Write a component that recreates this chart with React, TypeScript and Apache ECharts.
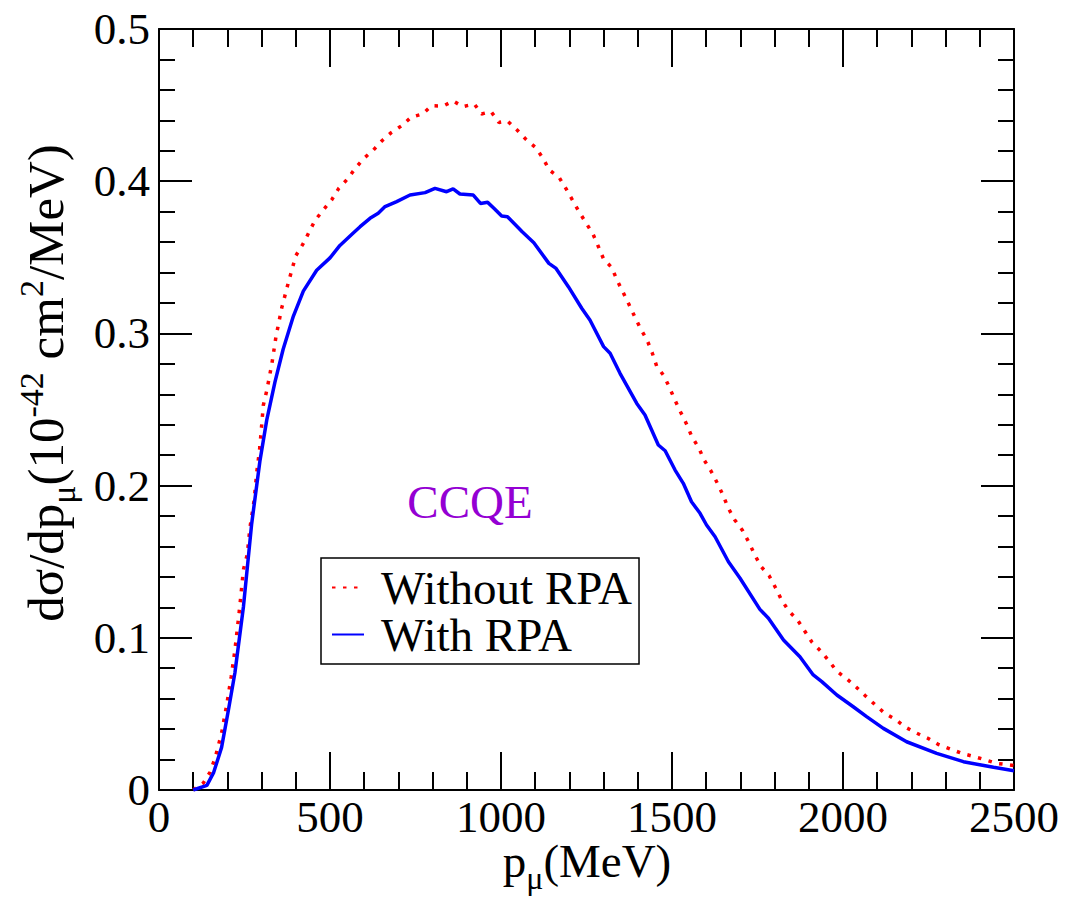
import React, { useEffect, useRef } from "react";
import * as echarts from "echarts";

// With RPA (solid blue)
const pWith = [100, 140, 160, 183, 203, 222, 247, 271, 295, 315, 339, 363, 393, 422, 461, 500, 529, 568, 588, 617, 641, 661, 695, 734, 778, 807, 841, 860, 880, 919, 940, 961, 980, 1002, 1019, 1062, 1096, 1140, 1161, 1197, 1236, 1260, 1300, 1319, 1348, 1397, 1421, 1460, 1480, 1509, 1533, 1557, 1582, 1601, 1626, 1665, 1699, 1757, 1782, 1826, 1874, 1913, 1938, 1982, 2030, 2069, 2118, 2186, 2274, 2352, 2440, 2500];
const sWith = [0, 0.003, 0.0116, 0.028, 0.0526, 0.077, 0.1206, 0.175, 0.216, 0.243, 0.268, 0.2896, 0.3114, 0.3278, 0.3415, 0.3496, 0.3578, 0.366, 0.3701, 0.3756, 0.3789, 0.3833, 0.3866, 0.3909, 0.3925, 0.3953, 0.3931, 0.395, 0.3916, 0.3909, 0.3854, 0.3861, 0.3821, 0.3771, 0.3767, 0.3668, 0.3596, 0.346, 0.3427, 0.3307, 0.3165, 0.3088, 0.2913, 0.2869, 0.2738, 0.254, 0.2464, 0.2267, 0.2229, 0.2102, 0.2015, 0.1894, 0.1818, 0.1741, 0.1664, 0.15, 0.1391, 0.1187, 0.1128, 0.0986, 0.0876, 0.0756, 0.0712, 0.0624, 0.0547, 0.0482, 0.0405, 0.0317, 0.0241, 0.0186, 0.0149, 0.0127];

// Without RPA (dotted red)
const pWithout = [100, 130, 149, 164, 183, 198, 211, 222, 235, 247, 258, 266, 278, 286, 295, 305, 315, 330, 342, 359, 378, 400, 422, 456, 480, 505, 526, 551, 573, 599, 627, 652, 679, 710, 737, 771, 797, 831, 860, 888, 922, 943, 971, 994, 1019, 1047, 1073, 1101, 1123, 1141, 1170, 1190, 1209, 1228, 1248, 1269, 1284, 1300, 1324, 1339, 1357, 1374, 1391, 1408, 1427, 1442, 1455, 1476, 1492, 1508, 1525, 1542, 1558, 1578, 1594, 1614, 1632, 1649, 1664, 1683, 1706, 1724, 1741, 1759, 1784, 1802, 1820, 1841, 1867, 1888, 1909, 1935, 1959, 1982, 2012, 2039, 2066, 2094, 2122, 2153, 2183, 2214, 2248, 2280, 2314, 2347, 2381, 2415, 2449, 2483, 2500];
const sWithout = [0, 0.0047, 0.0116, 0.021, 0.0374, 0.056, 0.0742, 0.092, 0.1179, 0.145, 0.1547, 0.1724, 0.19, 0.209, 0.2255, 0.2528, 0.2623, 0.28, 0.2978, 0.3169, 0.3332, 0.351, 0.3591, 0.3742, 0.381, 0.3878, 0.3954, 0.4014, 0.4082, 0.415, 0.4205, 0.4266, 0.4319, 0.4365, 0.442, 0.4442, 0.4496, 0.4494, 0.4527, 0.449, 0.4507, 0.4442, 0.4457, 0.4386, 0.4395, 0.4336, 0.4275, 0.4222, 0.415, 0.4074, 0.4025, 0.3951, 0.3876, 0.38, 0.3728, 0.3653, 0.3574, 0.3489, 0.3432, 0.3351, 0.327, 0.3191, 0.311, 0.3031, 0.2957, 0.2873, 0.2786, 0.2722, 0.2648, 0.2565, 0.2484, 0.2407, 0.2322, 0.2249, 0.2168, 0.2096, 0.2019, 0.1938, 0.1855, 0.1776, 0.1706, 0.1631, 0.155, 0.1472, 0.1408, 0.1332, 0.125, 0.1178, 0.1117, 0.1045, 0.0972, 0.0913, 0.0848, 0.078, 0.0729, 0.0675, 0.0618, 0.056, 0.0504, 0.0464, 0.0412, 0.0375, 0.034, 0.0298, 0.0269, 0.0241, 0.0221, 0.0199, 0.0175, 0.0166, 0.016];

const seriesNames = ["Without RPA", "With RPA"];
const annotation = "CCQE";

const FONT = "'Liberation Serif', 'Times New Roman', serif";

export default function App() {
  const ref = useRef<HTMLDivElement>(null);
  useEffect(() => {
    if (!ref.current) return;
    const chart = echarts.init(ref.current, null, { renderer: "svg" });
    const tickLine = { color: "#000", width: 2 };
    const xCommon = {
      type: "value",
      min: 0,
      max: 2500,
      interval: 500,
      axisLine: { show: true, onZero: false, lineStyle: { color: "#000", width: 2 } },
      axisTick: { show: true, inside: true, length: 38, lineStyle: tickLine },
      minorTick: { show: true, splitNumber: 5, length: 18, lineStyle: tickLine },
      splitLine: { show: false },
      minorSplitLine: { show: false },
    };
    const yCommon = {
      type: "value",
      min: 0,
      max: 0.5,
      interval: 0.1,
      axisLine: { show: true, onZero: false, lineStyle: { color: "#000", width: 2 } },
      axisTick: { show: true, inside: true, length: 33, lineStyle: tickLine },
      minorTick: { show: true, splitNumber: 5, length: 16, lineStyle: tickLine },
      splitLine: { show: false },
      minorSplitLine: { show: false },
    };
    const labelStyle = { color: "#000", fontFamily: FONT, fontSize: 45 };
    const subStyle = (size: number, drop: number) => ({
      fontFamily: FONT,
      fontSize: size,
      lineHeight: 10,
      verticalAlign: "middle",
      padding: [drop * 2, 0, 0, 0],
      fill: "#000",
    });
    const supStyle = (size: number, rise: number) => ({
      fontFamily: FONT,
      fontSize: size,
      lineHeight: 10,
      verticalAlign: "middle",
      padding: [0, 0, rise * 2, 0],
      fill: "#000",
    });
    chart.setOption({
      animation: false,
      backgroundColor: "#fff",
      grid: { left: 159, top: 29, width: 855, height: 761, containLabel: false },
      xAxis: [
        {
          ...xCommon,
          position: "bottom",
          axisLabel: { ...labelStyle, margin: 10, lineHeight: 34, formatter: (v: number) => String(v) },
        },
        { ...xCommon, position: "top", axisLabel: { show: false } },
      ],
      yAxis: [
        {
          ...yCommon,
          position: "left",
          axisLabel: {
            ...labelStyle,
            margin: 9,
            formatter: (v: number) => (v === 0 ? "0" : v.toFixed(1)),
          },
        },
        { ...yCommon, position: "right", axisLabel: { show: false } },
      ],
      legend: {
        orient: "vertical",
        left: 321,
        top: 558,
        data: seriesNames,
        itemWidth: 32,
        itemHeight: 10,
        itemGap: 0,
        padding: [6, 7, 6, 10],
        borderColor: "#000",
        borderWidth: 1.5,
        backgroundColor: "#fff",
        itemStyle: { opacity: 0 },
        textStyle: {
          color: "#000",
          fontFamily: FONT,
          fontSize: 47,
          lineHeight: 45,
          padding: [0, 0, 0, 12],
        },
      },
      graphic: [
        {
          type: "text",
          x: 470,
          y: 502,
          style: {
            text: annotation,
            fill: "#9400D3",
            font: `47px ${FONT}`,
            align: "center",
            verticalAlign: "middle",
          },
        },
        {
          type: "text",
          x: 587,
          y: 861,
          style: {
            text: "p{sub|μ}(MeV)",
            fill: "#000",
            fontFamily: FONT,
            fontSize: 47,
            lineHeight: 42,
            align: "center",
            verticalAlign: "middle",
            rich: { sub: subStyle(32, 17) },
          },
        },
        {
          type: "text",
          x: 46,
          y: 383,
          rotation: Math.PI / 2,
          style: {
            text: "dσ/dp{sub|μ}(10{sup|-42} cm{sup|2}/MeV)",
            fill: "#000",
            fontFamily: FONT,
            fontSize: 51,
            lineHeight: 52,
            align: "center",
            verticalAlign: "middle",
            rich: { sub: subStyle(34, 17), sup: supStyle(34, 15) },
          },
        },
      ],
      series: [
        {
          name: seriesNames[0],
          type: "line",
          xAxisIndex: 0,
          yAxisIndex: 0,
          symbol: "none",
          showSymbol: false,
          data: pWithout.map((p, i) => [p, sWithout[i]]),
          itemStyle: { color: "#ff0000" },
          lineStyle: { color: "#ff0000", width: 3.5, type: [3.5, 7.5], cap: "butt" },
          z: 3,
        },
        {
          name: seriesNames[1],
          type: "line",
          xAxisIndex: 0,
          yAxisIndex: 0,
          symbol: "none",
          showSymbol: false,
          data: pWith.map((p, i) => [p, sWith[i]]),
          itemStyle: { color: "#0000ff" },
          lineStyle: { color: "#0000ff", width: 3.5, type: "solid" },
          z: 4,
        },
      ],
    });
    return () => chart.dispose();
  }, []);
  return (
    <div
      ref={ref}
      style={{ position: "fixed", left: 0, top: 0, width: 1066, height: 909, background: "#fff" }}
    />
  );
}
